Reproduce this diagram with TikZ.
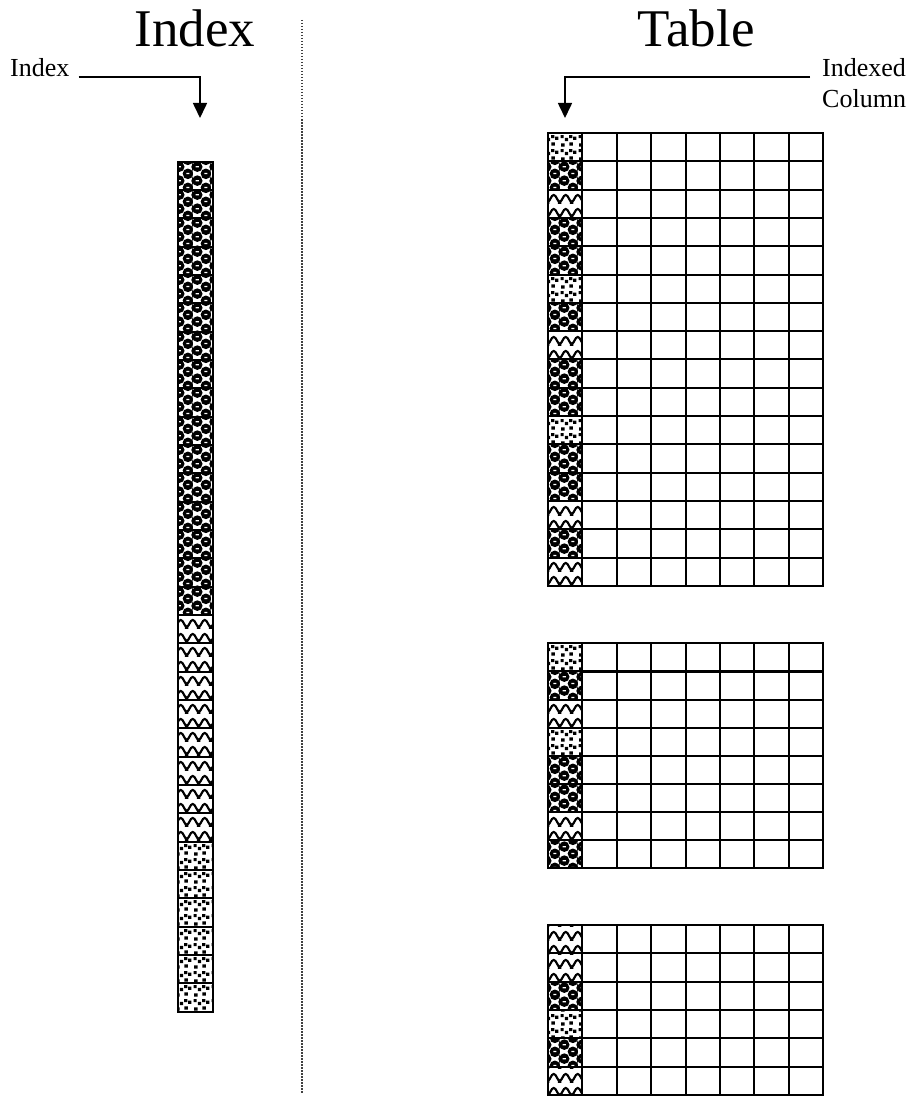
\documentclass[tikz,border=0pt]{standalone}
\usepackage{fontspec}
\setmainfont{Liberation Serif}
\usetikzlibrary{arrows.meta,patterns}

\pgfdeclarepatterninherentlycolored{balls}{\pgfpointorigin}{\pgfpoint{17.5pt}{14.17pt}}{\pgfpoint{17.5pt}{14.17pt}}{%
  \pgfsetfillcolor{white}%
  \pgfpathrectangle{\pgfpointorigin}{\pgfpoint{17.5pt}{14.17pt}}\pgfusepath{fill}%
  \pgfsetfillcolor{black}%
  \pgfpathcircle{\pgfpoint{13.1pt}{3.54pt}}{5.3pt}%
  \pgfpathcircle{\pgfpoint{13.1pt}{17.71pt}}{5.3pt}%
  \pgfpathcircle{\pgfpoint{4.4pt}{10.6pt}}{5.3pt}%
  \pgfpathcircle{\pgfpoint{4.4pt}{-3.57pt}}{5.3pt}%
  \pgfpathcircle{\pgfpoint{-4.4pt}{10.6pt}}{5.3pt}%
  \pgfpathcircle{\pgfpoint{21.9pt}{10.6pt}}{5.3pt}%
  \pgfpathcircle{\pgfpoint{21.9pt}{-3.57pt}}{5.3pt}%
  \pgfpathcircle{\pgfpoint{-4.4pt}{-3.57pt}}{5.3pt}%
  \pgfpathcircle{\pgfpoint{-4.4pt}{24.77pt}}{5.3pt}%
  \pgfpathcircle{\pgfpoint{21.9pt}{24.77pt}}{5.3pt}%
  \pgfpathcircle{\pgfpoint{13.1pt}{-10.63pt}}{5.3pt}%
  \pgfpathcircle{\pgfpoint{4.4pt}{24.77pt}}{5.3pt}%
  \pgfusepath{fill}%
  \pgfsetfillcolor{white}%
  \pgfpathrectangle{\pgfpoint{11.5pt}{2.9pt}}{\pgfpoint{3.2pt}{1.3pt}}%
  \pgfpathrectangle{\pgfpoint{2.8pt}{9.95pt}}{\pgfpoint{3.2pt}{1.3pt}}%
  \pgfusepath{fill}%
}
\pgfdeclarepatterninherentlycolored{waves}{\pgfpointorigin}{\pgfpoint{11.67pt}{14.17pt}}{\pgfpoint{11.67pt}{14.17pt}}{%
  \pgfsetfillcolor{white}%
  \pgfpathrectangle{\pgfpointorigin}{\pgfpoint{11.67pt}{14.17pt}}\pgfusepath{fill}%
  \pgfsetstrokecolor{black}%
  \pgfsetlinewidth{2.2pt}%
  \pgfpathmoveto{\pgfpoint{0pt}{3.5pt}}%
  \pgfpathcurveto{\pgfpoint{2pt}{3.5pt}}{\pgfpoint{3.2pt}{10.5pt}}{\pgfpoint{5.83pt}{10.5pt}}%
  \pgfpathcurveto{\pgfpoint{8.47pt}{10.5pt}}{\pgfpoint{9.67pt}{3.5pt}}{\pgfpoint{11.67pt}{3.5pt}}%
  \pgfusepath{stroke}%
  \pgfsetfillcolor{black}%
  \pgfpathrectangle{\pgfpoint{-1.5pt}{1.2pt}}{\pgfpoint{3pt}{2.6pt}}%
  \pgfpathrectangle{\pgfpoint{10.17pt}{1.2pt}}{\pgfpoint{3pt}{2.6pt}}%
  \pgfusepath{fill}%
}
\pgfdeclarepatterninherentlycolored{specks}{\pgfpointorigin}{\pgfpoint{17.5pt}{14.17pt}}{\pgfpoint{17.5pt}{14.17pt}}{%
  \pgfsetfillcolor{white}%
  \pgfpathrectangle{\pgfpointorigin}{\pgfpoint{17.5pt}{14.17pt}}\pgfusepath{fill}%
  \pgfsetfillcolor{black}%
  \pgfpathrectangle{\pgfpoint{1.2pt}{1.4pt}}{\pgfpoint{3.4pt}{3.4pt}}%
  \pgfpathrectangle{\pgfpoint{9.6pt}{2.6pt}}{\pgfpoint{3.4pt}{3.4pt}}%
  \pgfpathrectangle{\pgfpoint{5.0pt}{7.2pt}}{\pgfpoint{3.4pt}{3.4pt}}%
  \pgfpathrectangle{\pgfpoint{13.4pt}{8.6pt}}{\pgfpoint{3.4pt}{3.4pt}}%
  \pgfpathrectangle{\pgfpoint{0.6pt}{10.4pt}}{\pgfpoint{3.2pt}{3.2pt}}%
  \pgfpathrectangle{\pgfpoint{9.4pt}{10.4pt}}{\pgfpoint{3.2pt}{3.2pt}}%
  \pgfusepath{fill}%
}

\tikzset{
  cellbox/.style={draw, line width=2pt, minimum width=34.4pt, minimum height=28.3pt,
    inner sep=0pt, outer sep=0pt, anchor=north west},
  idxbox/.style={draw, line width=1.8pt, minimum width=35pt, minimum height=28.33pt,
    inner sep=0pt, outer sep=0pt, anchor=north west},
  patb/.style={pattern=balls},
  patw/.style={pattern=waves},
  patd/.style={pattern=specks},
  titletext/.style={font=\fontsize{53}{60}\selectfont, anchor=base, inner sep=0pt},
  labeltext/.style={font=\fontsize{26}{30}\selectfont, anchor=base west, inner sep=0pt},
  pointer/.style={line width=1.6pt, -{Triangle[width=14pt,length=15pt]}},
  divider/.style={line width=1.5pt, gray!50!black, dash pattern=on 1.5pt off 1.5pt}
}

\begin{document}
\begin{tikzpicture}[x=1pt,y=-1pt]
\useasboundingbox (0,0) rectangle (921,1097);

% titles
\node[titletext] (tIndex) at (195,46.7) {Index};
\node[titletext] (tTable) at (696,46.7) {Table};

% divider
\coordinate (divTop) at (302,20);
\coordinate (divBot) at (302,1093);
\draw[divider] (divTop) -- (divBot);

% labels and pointers
\node[labeltext] (lIndex) at (10,77) {Index};
\node[labeltext] (lIndexed) at (822,77) {Indexed};
\node[labeltext] (lColumn) at (822,108) {Column};
\coordinate (aIdx) at (200,118);
\coordinate (aCol) at (565,118);
\draw[pointer] ([xshift=9pt]lIndex.base east) -| (aIdx);
\draw[pointer] ([xshift=-12pt]lIndexed.base west) -| (aCol);

% index column
\foreach \p [count=\r from 0] in {b,b,b,b,b,b,b,b,b,b,b,b,b,b,b,b,w,w,w,w,w,w,w,w,d,d,d,d,d,d} {
  \node[idxbox, pat\p] (ix-\r) at (178, {161.7+28.33*\r}) {};
}

% table 1
\foreach \p [count=\r from 0] in {d,b,w,b,b,d,b,w,b,b,d,b,b,w,b,w} {
  \node[cellbox, pat\p] (ta-\r-0) at (548, {133+28.3*\r}) {};
  \foreach \c in {1,...,7} {
    \node[cellbox] (ta-\r-\c) at ({548+34.4*\c}, {133+28.3*\r}) {};
  }
}

% table 2
\foreach \p [count=\r from 0] in {d,b,w,d,b,b,w,b} {
  \node[cellbox, pat\p] (tb-\r-0) at (548, {643.3+28.1*\r}) {};
  \foreach \c in {1,...,7} {
    \node[cellbox] (tb-\r-\c) at ({548+34.4*\c}, {643.3+28.1*\r}) {};
  }
}

% table 3
\foreach \p [count=\r from 0] in {w,w,b,d,b,w} {
  \node[cellbox, pat\p] (tc-\r-0) at (548, {925+28.3*\r}) {};
  \foreach \c in {1,...,7} {
    \node[cellbox] (tc-\r-\c) at ({548+34.4*\c}, {925+28.3*\r}) {};
  }
}
\end{tikzpicture}
\end{document}
